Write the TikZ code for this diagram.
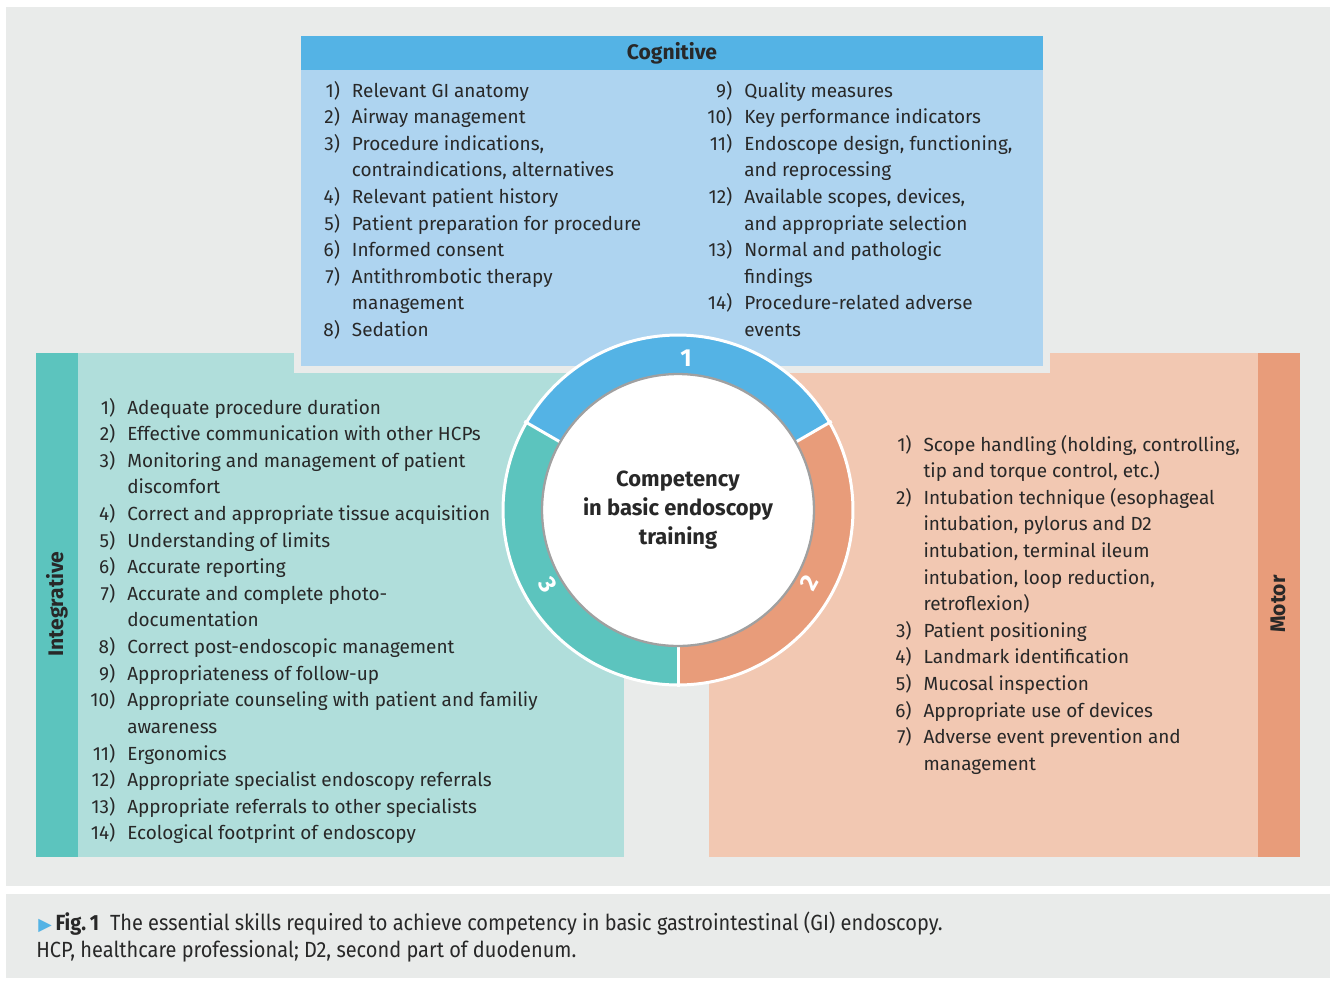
\documentclass[tikz,border=0pt]{standalone}
\usepackage{fontspec}
\setmainfont{Fira Sans}
\newfontfamily\capfont[FakeStretch=0.91]{Fira Sans}
\newfontfamily\symfont{DejaVu Sans}
\usepackage{tikz}
\definecolor{bggrey}{RGB}{233,235,234}
\definecolor{inkgrey}{RGB}{40,40,40}
\definecolor{cogdark}{RGB}{84,179,229}
\definecolor{coglight}{RGB}{174,212,240}
\definecolor{intdark}{RGB}{92,196,190}
\definecolor{intlight}{RGB}{176,222,219}
\definecolor{motdark}{RGB}{232,156,122}
\definecolor{motlight}{RGB}{242,200,178}
\definecolor{hubline}{RGB}{160,160,160}
\newcommand{\listfont}{\fontsize{10.8}{15.15}\selectfont}
\tikzstyle{itemlist} = [anchor=base west, inner sep=0pt, text=inkgrey, font=\listfont]
\tikzstyle{sidelabel} = [rotate=90, inner sep=0pt, text=inkgrey, font=\fontsize{12}{14}\selectfont\bfseries]
\tikzstyle{ringnum} = [text=white, inner sep=0pt, font=\fontsize{14}{16}\selectfont\bfseries]
\tikzstyle{captext} = [anchor=base west, inner sep=0pt, text=inkgrey, font=\capfont\fontsize{12.5}{15.3}\selectfont]

\begin{document}
\begin{tikzpicture}[x=0.02cm, y=-0.02cm]
    % page and grey panels
    \fill[white] (0,0) rectangle (1332,981);
    \fill[bggrey] (6,7) rectangle (1330,886);
    \fill[bggrey] (6,894) rectangle (1330,978);
    % integrative and motor boxes
    \fill[intlight] (36,353) rectangle (624,857);
    \fill[intdark] (36,353) rectangle (78,857);
    \fill[motlight] (709,353) rectangle (1300,857);
    \fill[motdark] (1258,353) rectangle (1300,857);
    % cognitive box with its grey margin
    \fill[bggrey] (294,29) rectangle (1050,373);
    \fill[coglight] (301,36) rectangle (1043,366);
    \fill[cogdark] (301,36) rectangle (1043,70);

    \node (CogTitle) [text=inkgrey, font=\fontsize{12}{14}\selectfont\bfseries] at (672,53) {Cognitive};
    \node (CogLeft) [itemlist] at (323,97) {\begin{tabular}[t]{@{}r@{\hspace{0.24cm}}l@{}}
        1) & Relevant GI anatomy \\
        2) & Airway management \\
        3) & Procedure indications, \\
           & contraindications, alternatives \\
        4) & Relevant patient history \\
        5) & Patient preparation for procedure \\
        6) & Informed consent \\
        7) & Antithrombotic therapy \\
           & management \\
        8) & Sedation
    \end{tabular}};
    \node (CogRight) [itemlist] at (707,97) {\begin{tabular}[t]{@{}r@{\hspace{0.24cm}}l@{}}
        9) & Quality measures \\
        10) & Key performance indicators \\
        11) & Endoscope design, functioning, \\
            & and reprocessing \\
        12) & Available scopes, devices, \\
            & and appropriate selection \\
        13) & Normal and pathologic \\
            & findings \\
        14) & Procedure-related adverse \\
            & events
    \end{tabular}};

    \node (IntTitle) [sidelabel] at (57,604) {Integrative};
    \node (IntList) [itemlist] at (90,414) {\begin{tabular}[t]{@{}r@{\hspace{0.24cm}}l@{}}
        1) & Adequate procedure duration \\
        2) & Effective communication with other HCPs \\
        3) & Monitoring and management of patient \\
           & discomfort \\
        4) & Correct and appropriate tissue acquisition \\
        5) & Understanding of limits \\
        6) & Accurate reporting \\
        7) & Accurate and complete photo- \\
           & documentation \\
        8) & Correct post-endoscopic management \\
        9) & Appropriateness of follow-up \\
        10) & Appropriate counseling with patient and familiy \\
            & awareness \\
        11) & Ergonomics \\
        12) & Appropriate specialist endoscopy referrals \\
        13) & Appropriate referrals to other specialists \\
        14) & Ecological footprint of endoscopy
    \end{tabular}};

    \node (MotTitle) [sidelabel] at (1278,604) {Motor};
    \node (MotList) [itemlist] at (895,451) {\begin{tabular}[t]{@{}r@{\hspace{0.24cm}}l@{}}
        1) & Scope handling (holding, controlling, \\
           & tip and torque control, etc.) \\
        2) & Intubation technique (esophageal \\
           & intubation, pylorus and D2 \\
           & intubation, terminal ileum \\
           & intubation, loop reduction, \\
           & retroflexion) \\
        3) & Patient positioning \\
        4) & Landmark identification \\
        5) & Mucosal inspection \\
        6) & Appropriate use of devices \\
        7) & Adverse event prevention and \\
           & management
    \end{tabular}};

    % ring round the hub
    \coordinate (Hub) at (678,510);
    \fill[cogdark] ([shift={(30:3.5cm)}]Hub) arc[start angle=30, end angle=150, radius=3.5cm]
        -- ([shift={(150:2.7cm)}]Hub) arc[start angle=150, end angle=30, radius=2.7cm] -- cycle;
    \fill[motdark] ([shift={(-90:3.5cm)}]Hub) arc[start angle=-90, end angle=30, radius=3.5cm]
        -- ([shift={(30:2.7cm)}]Hub) arc[start angle=30, end angle=-90, radius=2.7cm] -- cycle;
    \fill[intdark] ([shift={(150:3.5cm)}]Hub) arc[start angle=150, end angle=270, radius=3.5cm]
        -- ([shift={(270:2.7cm)}]Hub) arc[start angle=270, end angle=150, radius=2.7cm] -- cycle;
    \foreach \a in {30,150,270}
        \draw[white, line width=1.7pt] ([shift={(\a:2.6cm)}]Hub) -- ([shift={(\a:3.55cm)}]Hub);
    \draw[white, line width=1.7pt] (Hub) circle[radius=3.5cm];
    \node (HubText) [circle, fill=white, draw=hubline, line width=1.3pt, minimum size=5.44cm,
        align=center, text=inkgrey, font=\fontsize{12.5}{16.7}\selectfont\bfseries] at (Hub)
        {Competency\\in basic endoscopy\\training};
    \node (NumOne) [ringnum] at ([shift={(87:3.04cm)}]Hub) {1};
    \node (NumTwo) [ringnum, rotate=61] at ([shift={(-29:3.0cm)}]Hub) {2};
    \node (NumThree) [ringnum, rotate=-60] at ([shift={(210:3.0cm)}]Hub) {3};

    % caption
    \node (CapLine1) [captext] at (38,930) {{\symfont\fontsize{10}{12}\selectfont\textcolor{cogdark}{▶}}\,\textbf{Fig.\,1}\enspace The essential skills required to achieve competency in basic gastrointestinal (GI) endoscopy.};
    \node (CapLine2) [captext] at (36,957) {HCP, healthcare professional; D2, second part of duodenum.};
\end{tikzpicture}
\end{document}
